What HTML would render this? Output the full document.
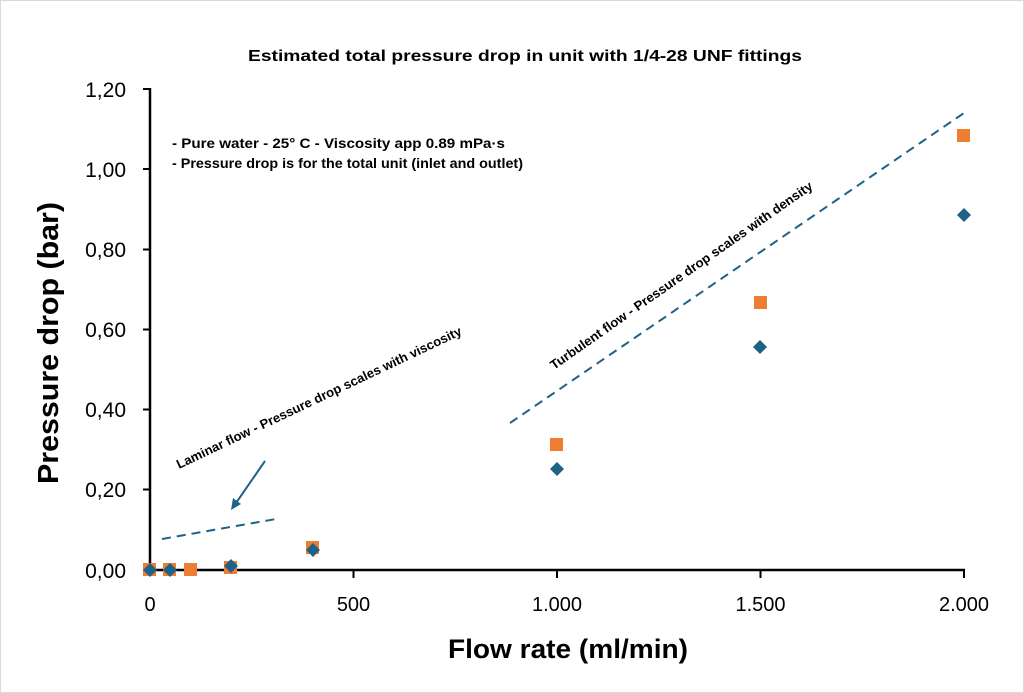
<!DOCTYPE html>
<html><head><meta charset="utf-8"><style>
body{margin:0;background:#fff}
svg{display:block}
text{font-family:"Liberation Sans",sans-serif}
</style></head><body>
<svg width="1024" height="693" viewBox="0 0 1024 693">
<rect x="0.5" y="0.5" width="1023" height="692" fill="#fff" stroke="#d9d9d9"/>
<text x="525" y="61" font-size="16" font-weight="bold" text-anchor="middle" textLength="554" lengthAdjust="spacingAndGlyphs">Estimated total pressure drop in unit with 1/4-28 UNF fittings</text>
<g stroke="#000" stroke-width="2.5">
<line x1="150" y1="88" x2="150" y2="571"/>
<line x1="149" y1="570" x2="965" y2="570"/>
</g>
<g stroke="#000" stroke-width="2">
<line x1="143" y1="89" x2="150" y2="89"/><line x1="143" y1="169" x2="150" y2="169"/>
<line x1="143" y1="249.5" x2="150" y2="249.5"/><line x1="143" y1="329.5" x2="150" y2="329.5"/>
<line x1="143" y1="409.5" x2="150" y2="409.5"/><line x1="143" y1="489.5" x2="150" y2="489.5"/>
<line x1="143" y1="570" x2="150" y2="570"/>
<line x1="353.5" y1="570" x2="353.5" y2="578"/><line x1="557" y1="570" x2="557" y2="578"/>
<line x1="760.5" y1="570" x2="760.5" y2="578"/><line x1="964" y1="570" x2="964" y2="578"/>
</g>
<g font-size="21" text-anchor="end" fill="#000">
<text x="126" y="97">1,20</text><text x="126" y="177">1,00</text><text x="126" y="257">0,80</text>
<text x="126" y="337">0,60</text><text x="126" y="417">0,40</text><text x="126" y="497">0,20</text>
<text x="126" y="578">0,00</text>
</g>
<g font-size="20" text-anchor="middle">
<text x="150" y="611">0</text><text x="353.5" y="611">500</text><text x="557" y="611">1.000</text>
<text x="760.5" y="611">1.500</text><text x="964" y="611">2.000</text>
</g>
<text x="568" y="658" font-size="27" font-weight="bold" text-anchor="middle" textLength="240" lengthAdjust="spacingAndGlyphs">Flow rate (ml/min)</text>
<text transform="translate(58,343) rotate(-90)" font-size="29" font-weight="bold" text-anchor="middle" textLength="282" lengthAdjust="spacingAndGlyphs">Pressure drop (bar)</text>
<g font-size="14" font-weight="bold">
<text x="172" y="148" textLength="333" lengthAdjust="spacingAndGlyphs">- Pure water -  25° C  - Viscosity app 0.89 mPa·s</text>
<text x="172" y="168" textLength="351" lengthAdjust="spacingAndGlyphs">- Pressure drop is for the total unit (inlet and outlet)</text>
</g>
<text transform="translate(179,469) rotate(-25.4)" font-size="13" font-weight="bold" textLength="314" lengthAdjust="spacingAndGlyphs">Laminar flow - Pressure drop scales with viscosity</text>
<text transform="translate(554,370) rotate(-35)" font-size="13" font-weight="bold" textLength="317" lengthAdjust="spacingAndGlyphs">Turbulent flow - Pressure drop scales with density</text>
<g stroke="#1F6288" stroke-width="2" stroke-dasharray="9,6" fill="none">
<line x1="510" y1="423" x2="964" y2="113"/>
<line x1="162" y1="539" x2="276" y2="519"/>
</g>
<line x1="265" y1="461" x2="236" y2="503" stroke="#1F6288" stroke-width="2"/>
<polygon points="231,510 233,498 241,504" fill="#1F6288"/>
<g fill="#ED7D31">
<rect x="143" y="563" width="13" height="13"/><rect x="163" y="563" width="13" height="13"/>
<rect x="184" y="563" width="13" height="13"/><rect x="224" y="561" width="13" height="13"/>
<rect x="306" y="541" width="13" height="13"/><rect x="550" y="438" width="13" height="13"/>
<rect x="754" y="296" width="13" height="13"/><rect x="957" y="129" width="13" height="13"/>
</g>
<g fill="#1F6288">
<polygon points="150,563 157,570 150,577 143,570"/>
<polygon points="170,563 177,570 170,577 163,570"/>
<polygon points="231,559 238,566 231,573 224,566"/>
<polygon points="313,543 320,550 313,557 306,550"/>
<polygon points="557,462 564,469 557,476 550,469"/>
<polygon points="760,340 767,347 760,354 753,347"/>
<polygon points="964,208 971,215 964,222 957,215"/>
</g>
</svg>
</body></html>
